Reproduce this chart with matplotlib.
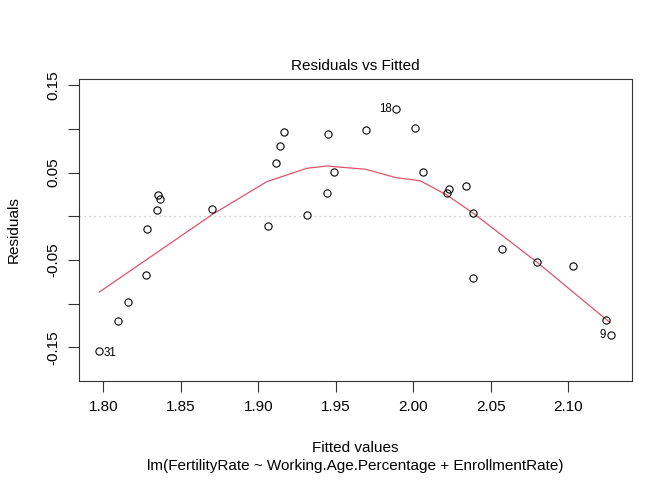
import matplotlib
matplotlib.use("Agg")
import matplotlib.pyplot as plt

plt.rcParams['font.family'] = ['Liberation Sans', 'DejaVu Sans']

# Fitted values and residuals
fitted = [1.7972, 1.8093, 1.8161, 1.8276, 1.8280, 1.8349, 1.8351, 1.8366,
          1.8704, 1.9061, 1.9113, 1.9139, 1.9166, 1.9313, 1.9442, 1.9449,
          1.9490, 1.9694, 1.9890, 2.0010, 2.0064, 2.0217, 2.0232, 2.0342,
          2.0387, 2.0389, 2.0576, 2.0798, 2.1030, 2.1243, 2.1277]
residuals = [-0.1542, -0.1199, -0.0982, -0.0676, -0.0150, 0.0075, 0.0243, 0.0193,
             0.0079, -0.0116, 0.0605, 0.0807, 0.0963, 0.0010, 0.0265, 0.0940,
             0.0506, 0.0990, 0.1227, 0.1005, 0.0509, 0.0262, 0.0308, 0.0349,
             0.0033, -0.0711, -0.0379, -0.0524, -0.0566, -0.1191, -0.1359]

# Smoother (red line) vertices
smooth_x = [1.7975, 1.8704, 1.9055, 1.9313, 1.9442, 1.9694, 1.9890, 2.0045,
            2.0217, 2.0389, 2.0798, 2.1271]
smooth_y = [-0.0867, 0.0020, 0.0395, 0.0548, 0.0574, 0.0537, 0.0441, 0.0406,
            0.0243, 0.0033, -0.0524, -0.1218]

# Labelled observations: (label, index into arrays, side)
id_labels = ["31", "18", "9"]
id_index = [0, 18, 30]
id_side = ["right", "left", "left"]

xticks = [1.80, 1.85, 1.90, 1.95, 2.00, 2.05, 2.10]
xtick_labels = ["1.80", "1.85", "1.90", "1.95", "2.00", "2.05", "2.10"]
yticks = [-0.15, -0.10, -0.05, 0.00, 0.05, 0.10, 0.15]
ytick_labels = ["-0.15", "", "-0.05", "", "0.05", "", "0.15"]

title = "Residuals vs Fitted"
xlabel = "Fitted values"
sublabel = "lm(FertilityRate ~ Working.Age.Percentage + EnrollmentRate)"
ylabel = "Residuals"

fig = plt.figure(figsize=(6.72, 4.8), dpi=100)
ax = fig.add_axes([79/672, 1-381/480, (632-79)/672, (381-79)/480])

ax.axhline(0, color='#BEBEBE', linestyle=(0, (1, 3)), linewidth=0.9, zorder=1)
ax.plot(smooth_x, smooth_y, color='#DF536B', linewidth=0.9, zorder=2)
ax.plot(fitted, residuals, linestyle='none', marker='o', markersize=5.2,
        markerfacecolor='none', markeredgecolor='black', markeredgewidth=0.8, zorder=3)

for lab, i, side in zip(id_labels, id_index, id_side):
    if side == "right":
        ax.annotate(lab, (fitted[i], residuals[i]), xytext=(3.3, -1.5),
                    textcoords='offset points', ha='left', va='center', fontsize=8.3)
    else:
        ax.annotate(lab, (fitted[i], residuals[i]), xytext=(-3.3, 0),
                    textcoords='offset points', ha='right', va='center', fontsize=8.3)

ax.set_xlim(1.7843, 2.1413)
ax.set_ylim(-0.1886, 0.157)
ax.set_xticks(xticks)
ax.set_xticklabels(xtick_labels)
ax.set_yticks(yticks)
ax.set_yticklabels(ytick_labels, rotation=90, va='center')
ax.tick_params(axis='both', direction='out', length=7.7, width=0.8,
               labelsize=11, color='#333333')
ax.tick_params(axis='x', pad=6)
ax.tick_params(axis='y', pad=6)
for s in ax.spines.values():
    s.set_linewidth(0.8)
    s.set_color('#333333')

fig.text(0.5 * (79 + 632) / 672, 1 - 70/480, title, ha='center', va='baseline', fontsize=11)
fig.text(0.5 * (79 + 632) / 672, 1 - 448/480, xlabel, ha='center', va='center', fontsize=11)
fig.text(0.5 * (79 + 632) / 672, 1 - 466/480, sublabel, ha='center', va='center', fontsize=11)
fig.text(14/672, 1 - 230/480, ylabel, ha='center', va='center', rotation=90, fontsize=11)

fig.savefig("out.png", dpi=100)
